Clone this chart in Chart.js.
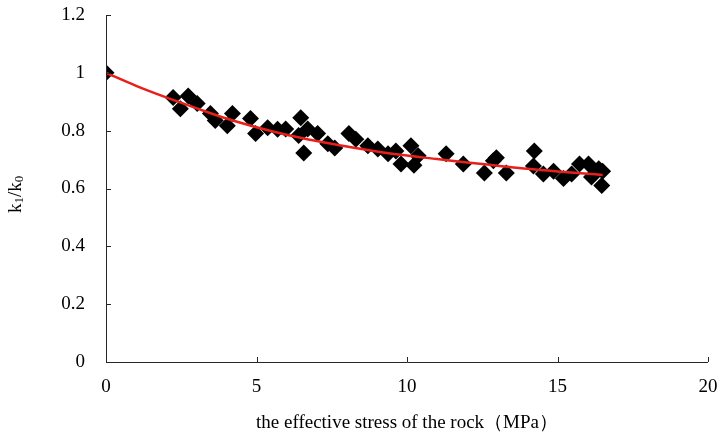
<!DOCTYPE html>
<html>
<head>
<meta charset="utf-8">
<script src="https://cdn.jsdelivr.net/npm/chart.js@4"></script>
<style>
html,body{margin:0;padding:0;background:#fff;}
#wrap{width:722px;height:438px;position:relative;}
</style>
</head>
<body>
<div id="wrap"><canvas id="c" width="722" height="438"></canvas></div>
<script>
// measured points: effective stress (MPa) and k1/k0
const stress = [0, 2.23, 2.47, 2.73, 3.03, 3.47, 3.63, 4.03, 4.2, 4.8, 4.97, 5.37, 5.7, 5.97, 6.4, 6.47, 6.57, 6.7, 7.03, 7.37, 7.6, 8.07, 8.3, 8.7, 9.03, 9.37, 9.63, 9.8, 10.13, 10.23, 10.37, 11.3, 11.87, 12.57, 12.87, 12.97, 13.3, 14.23, 14.2, 14.53, 14.87, 15.2, 15.47, 15.73, 16.03, 16.13, 16.37, 16.47, 16.5];
const ratio  = [1.0, 0.915, 0.876, 0.92, 0.894, 0.859, 0.835, 0.817, 0.859, 0.842, 0.79, 0.81, 0.805, 0.806, 0.783, 0.845, 0.723, 0.806, 0.79, 0.755, 0.74, 0.79, 0.77, 0.748, 0.737, 0.72, 0.73, 0.685, 0.748, 0.68, 0.713, 0.72, 0.685, 0.654, 0.696, 0.706, 0.654, 0.73, 0.678, 0.65, 0.66, 0.635, 0.65, 0.685, 0.685, 0.64, 0.668, 0.61, 0.66];
// fitted trend curve
const fitStress = [0, 1, 2, 3, 4, 5, 6, 7, 8, 9, 10, 11, 12, 13, 14, 15, 16, 16.5];
const fitRatio  = [1.0, 0.955, 0.915, 0.878, 0.842, 0.812, 0.786, 0.764, 0.745, 0.728, 0.714, 0.702, 0.69, 0.679, 0.668, 0.659, 0.651, 0.647];
const xTicks = [0, 5, 10, 15, 20];
const yTicks = [0, 0.2, 0.4, 0.6, 0.8, 1, 1.2];
const xTitle = 'the effective stress of the rock（MPa）';

const FONT = '"Liberation Serif", "Times New Roman", serif';
const AXIS = '#262626';

const pts = stress.map((x, i) => ({x: x, y: ratio[i]}));
const fit = fitStress.map((x, i) => ({x: x, y: fitRatio[i]}));

const decor = {
  id: 'decor',
  afterDraw(chart) {
    const ctx = chart.ctx, xs = chart.scales.x, ys = chart.scales.y;
    const x0 = xs.getPixelForValue(0), y0 = ys.getPixelForValue(0);
    ctx.save();
    ctx.strokeStyle = AXIS; ctx.lineWidth = 1;
    ctx.beginPath();
    ctx.moveTo(Math.round(x0) + 0.5, ys.getPixelForValue(1.2));
    ctx.lineTo(Math.round(x0) + 0.5, Math.round(y0) + 0.5);
    ctx.lineTo(xs.getPixelForValue(20), Math.round(y0) + 0.5);
    // inward tick marks
    yTicks.forEach(v => { const p = Math.round(ys.getPixelForValue(v)) + 0.5; ctx.moveTo(x0, p); ctx.lineTo(x0 + 5, p); });
    xTicks.forEach(v => { const p = Math.round(xs.getPixelForValue(v)) + 0.5; ctx.moveTo(p, y0); ctx.lineTo(p, y0 - 5); });
    ctx.stroke();
    // y-axis title with subscripts
    ctx.translate(16, ys.getPixelForValue(0.58));
    ctx.rotate(-Math.PI / 2);
    ctx.fillStyle = '#000';
    ctx.textBaseline = 'middle';
    const big = '19px ' + FONT, small = '13px ' + FONT;
    const parts = [['k', big, 0], ['1', small, 4], ['/k', big, 0], ['0', small, 4]];
    let w = 0;
    parts.forEach(p => { ctx.font = p[1]; w += ctx.measureText(p[0]).width; });
    let cx = -w / 2;
    parts.forEach(p => { ctx.font = p[1]; ctx.fillText(p[0], cx, p[2]); cx += ctx.measureText(p[0]).width; });
    ctx.restore();
  }
};

new Chart(document.getElementById('c'), {
  type: 'scatter',
  data: {
    datasets: [
      {
        label: 'measured',
        data: pts,
        pointStyle: 'rectRot',
        pointRadius: 8.5,
        pointHoverRadius: 8.5,
        backgroundColor: '#000',
        borderColor: '#000',
        borderWidth: 0,
        order: 2
      },
      {
        label: 'fit',
        type: 'line',
        data: fit,
        borderColor: '#e8201c',
        borderWidth: 2.5,
        pointRadius: 0,
        tension: 0.4,
        cubicInterpolationMode: 'monotone',
        fill: false,
        order: 1
      }
    ]
  },
  options: {
    responsive: false,
    animation: false,
    devicePixelRatio: 1,
    layout: { padding: { left: 0, top: 15, right: 14, bottom: 0 } },
    plugins: { legend: { display: false }, tooltip: { enabled: false } },
    scales: {
      x: {
        type: 'linear', min: 0, max: 20,
        afterBuildTicks: s => { s.ticks = xTicks.map(v => ({value: v})); },
        afterFit: s => { s.height = 76; s.paddingLeft = 0; s.paddingRight = 0; },
        grid: { display: false, drawTicks: false },
        border: { display: false },
        ticks: { color: '#000', font: { family: FONT, size: 19 }, padding: 14, maxRotation: 0 },
        title: { display: true, text: xTitle, color: '#000', font: { family: FONT, size: 19 }, padding: { top: 6, bottom: 4 } }
      },
      y: {
        type: 'linear', min: 0, max: 1.2,
        afterBuildTicks: s => { s.ticks = yTicks.map(v => ({value: v})); },
        afterFit: s => { s.width = 106; s.paddingTop = 0; s.paddingBottom = 0; },
        grid: { display: false, drawTicks: false },
        border: { display: false },
        ticks: { color: '#000', font: { family: FONT, size: 19 }, padding: 21,
          callback: v => String(Number(v.toFixed(1))) }
      }
    }
  },
  plugins: [decor]
});
</script>
</body>
</html>
